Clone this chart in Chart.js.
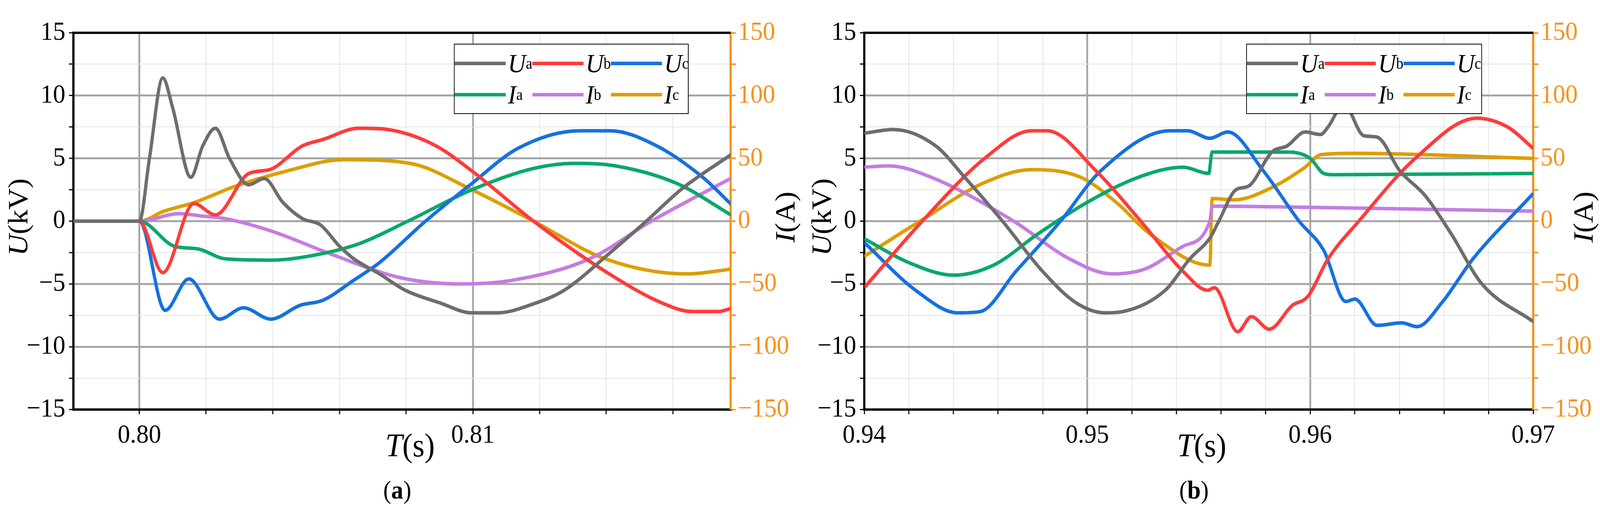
<!DOCTYPE html>
<html>
<head>
<meta charset="utf-8">
<script src="https://cdn.jsdelivr.net/npm/chart.js@4.4.0/dist/chart.umd.min.js"></script>
<style>
html, body { margin: 0; padding: 0; background: #fff; overflow: hidden; }
#stage { position: absolute; left: 0; top: 0; width: 4382px; height: 1314px; transform-origin: 0 0; font-family: "Liberation Serif", serif; }
canvas { position: absolute; top: 0; }
.lab { position: absolute; font-size: 84px; color: #000; white-space: nowrap; transform: translate(-50%, -50%); }
.rot { font-size: 76px; transform: translate(-50%, -50%) rotate(-90deg); }
.cap { position: absolute; font-size: 66px; transform: translate(-50%, -50%); }
.legend { position: absolute; border: 2px solid #000; background: #fff; display: grid; grid-template-columns: repeat(3, 1fr); align-items: center; padding: 8px 0; box-sizing: border-box; }
.legend div { display: flex; align-items: center; font-size: 68px; height: 80px; }
.legend span.sw { display: inline-block; width: 140px; height: 9px; margin-right: 6px; }
sub { font-size: 40px; font-style: normal; }
</style>
</head>
<body>
<div id="stage">
<canvas id="chartA" width="2191" height="1200" style="left:0;width:2191px;height:1200px"></canvas>
<canvas id="chartB" width="2191" height="1200" style="left:2191px;width:2191px;height:1200px"></canvas>

<div class="lab rot" style="left:50px;top:556px"><i>U</i>(kV)</div>
<div class="lab rot" style="left:2150px;top:556px"><i>I</i>(A)</div>
<div class="lab" style="left:1123px;top:1140px"><i>T</i>(s)</div>
<div class="cap" style="left:1088px;top:1255px">(<b>a</b>)</div>

<div class="lab rot" style="left:2250px;top:556px"><i>U</i>(kV)</div>
<div class="lab rot" style="left:4337px;top:556px"><i>I</i>(A)</div>
<div class="lab" style="left:3291px;top:1140px"><i>T</i>(s)</div>
<div class="cap" style="left:3270px;top:1255px">(<b>b</b>)</div>

<div class="legend" id="legA" style="left:1243px;top:112px;width:643px;height:180px"></div>
<div class="legend" id="legB" style="left:3413px;top:112px;width:646px;height:180px"></div>
</div>

<script>
// panel (a) data: time (s) and value pairs per trace
const aUaT = [0.798,0.800,0.8003,0.8007,0.8010,0.80154,0.8019,0.80228,0.8027,0.80328,0.80374,0.8043,0.80489,0.80543,0.8060,0.80643,0.8072,0.80797,0.8090,0.80997,0.81074,0.8118,0.81274,0.81412,0.8152,0.81628,0.8178];
const aUaV = [0,0,5,11.4,9,3.5,6,7.4,5,2.9,3.4,1.5,0.2,-0.3,-2,-3,-4.2,-5.5,-6.5,-7.3,-7.3,-6.6,-5.5,-2.5,0,2.6,5.4];
const aUbT = [0.798,0.800,0.8007,0.80163,0.80228,0.80328,0.8039,0.80489,0.8055,0.80658,0.80766,0.80889,0.80997,0.81182,0.81397,0.81566,0.81658,0.81735,0.8178];
const aUbV = [0,0,-4.1,1.4,0.5,3.8,4.1,6.0,6.5,7.4,7.2,6.0,4.0,0,-4,-6.5,-7.2,-7.2,-6.9];
const aUcT = [0.798,0.800,0.80077,0.80148,0.8024,0.80312,0.80394,0.80482,0.8055,0.80643,0.8072,0.80858,0.80997,0.81135,0.8132,0.81412,0.81551,0.81689,0.8178];
const aUcV = [0,0,-7.1,-4.6,-7.8,-6.9,-7.8,-6.7,-6.3,-4.7,-3.3,0,3,5.8,7.2,7.2,6,3.5,1.2];
const aIaT = [0.798,0.800,0.80105,0.80174,0.80258,0.80397,0.80505,0.80658,0.80805,0.80997,0.81182,0.81305,0.81428,0.81612,0.8178];
const aIaV = [0,0,-20,-22,-30,-31,-28,-18,0,25,42,46,44,30,4];
const aIbT = [0.798,0.800,0.8012,0.8019,0.80258,0.80397,0.80582,0.80782,0.80966,0.8112,0.8135,0.81535,0.8178];
const aIbV = [0,0,6,4,2,-8,-27,-45,-50,-47,-30,0,35];
const aIcT = [0.798,0.800,0.80074,0.80166,0.80289,0.80443,0.80612,0.80812,0.80997,0.81182,0.81397,0.81643,0.8178];
const aIcV = [0,0,8,15,28,40,49,46,25,0,-30,-42,-38];

// panel (b) data
const bUaT = [0.940,0.9413,0.9432,0.9445,0.9462,0.948,0.9495,0.9508,0.9516,0.9535,0.9546,0.95552,0.9559,0.95667,0.95724,0.95828,0.95897,0.95977,0.96046,0.9608,0.9615,0.96241,0.96299,0.96402,0.96517,0.96632,0.9677,0.970];
const bUaV = [7.0,7.3,6.0,3.5,0,-4,-6.5,-7.3,-7.2,-5.5,-3,-1.3,0,2.5,2.8,5.5,6,7.1,6.9,7.5,9.3,6.8,6.7,4,2,-1,-5,-8];
const bUbT = [0.940,0.9426,0.9454,0.9475,0.9482,0.9504,0.9524,0.9543,0.9554,0.9557,0.95675,0.95736,0.95816,0.9592,0.95989,0.9608,0.96218,0.96471,0.96747,0.96885,0.970];
const bUbV = [-5.3,0,5,7.2,7.2,4,0,-4,-5.5,-5.3,-8.8,-7.6,-8.6,-6.7,-6,-3,0,5,8.2,7.5,5.8];
const bUcT = [0.940,0.9423,0.9442,0.9452,0.9468,0.9488,0.9506,0.9537,0.9545,0.9555,0.9563,0.9579,0.9595,0.9606,0.9616,0.962,0.9630,0.9641,0.9648,0.9659,0.9673,0.970];
const bUcV = [-1.7,-5.5,-7.3,-7.2,-4,0,4,7.2,7.2,6.6,7.1,4,0,-2.3,-6.4,-6.2,-8.3,-8.1,-8.4,-6.5,-3,2.2];
const bIaT = [0.940,0.942,0.944,0.9458,0.9478,0.950,0.9523,0.9543,0.95545,0.9556,0.9590,0.9600,0.9606,0.9610,0.970];
const bIaV = [-14,-33,-43,-35,-10,15,35,43,38,55,55,50,38,37,38];
const bIbT = [0.940,0.9411,0.943,0.9467,0.9492,0.9511,0.9526,0.9543,0.9555,0.9556,0.960,0.970];
const bIbV = [43,44,35,0,-30,-42,-38,-20,0,12,11,8];
const bIcT = [0.940,0.9425,0.9453,0.9475,0.9497,0.9513,0.9528,0.9555,0.9556,0.9566,0.9583,0.9597,0.9605,0.962,0.970];
const bIcV = [-28,0,30,41,35,15,-10,-35,18,17,27,42,53,54,50];

const names = ['U', 'U', 'U', 'I', 'I', 'I'];
const subs = ['a', 'b', 'c', 'a', 'b', 'c'];
const colors = ['#6d6d6d', '#ff3b3b', '#1571e0', '#08a86a', '#c47de2', '#dd9e00'];
const orange = '#f7901e';
const font = "'Liberation Serif', serif";

// fit the 4382x1314 stage to whatever the viewport really is
const stage = document.getElementById('stage');
stage.style.transform = 'scale(' + (window.innerWidth / 4382) + ',' + (window.innerHeight / 1314) + ')';

function pts(t, v) { return t.map((x, i) => ({ x: x, y: v[i] })); }

function makeChart(id, series, xmin, xmax, majorLabels, leftW, rightW) {
  const datasets = series.map((s, i) => ({
    data: pts(s[0], s[1]),
    borderColor: colors[i],
    borderWidth: 9,
    pointRadius: 0,
    fill: false,
    cubicInterpolationMode: 'monotone',
    yAxisID: i < 3 ? 'y' : 'y2'
  }));
  const isMajorX = (v) => majorLabels.some((m) => Math.abs(m - v) < 1e-6);
  new Chart(document.getElementById(id), {
    type: 'line',
    data: { datasets },
    options: {
      animation: false,
      responsive: false,
      devicePixelRatio: 1,
      layout: { padding: { top: 84, left: 0, right: 0, bottom: 0 } },
      plugins: { legend: { display: false }, tooltip: { enabled: false } },
      scales: {
        x: {
          type: 'linear', min: xmin, max: xmax,
          afterBuildTicks: (sc) => {
            const ticks = [];
            for (let k = Math.ceil(xmin / 0.002 - 1e-6); k * 0.002 <= xmax + 1e-9; k++) ticks.push({ value: +(k * 0.002).toFixed(4) });
            sc.ticks = ticks;
          },
          afterFit: (sc) => { sc.height = 151; },
          ticks: {
            autoSkip: false, maxRotation: 0, padding: 14,
            font: { family: font, size: 68 }, color: '#000',
            callback: (v) => isMajorX(v) ? v.toFixed(2) : ''
          },
          grid: {
            color: (c) => isMajorX(c.tick.value) ? '#a6a6a6' : '#e2e2e2',
            lineWidth: (c) => isMajorX(c.tick.value) ? 5 : 2,
            tickColor: '#000', tickLength: 12, tickWidth: 3
          },
          border: { color: '#000', width: 6 }
        },
        y: {
          position: 'left', min: -15, max: 15,
          afterBuildTicks: (sc) => {
            const ticks = [];
            for (let v = -15; v <= 15; v += 2.5) ticks.push({ value: v });
            sc.ticks = ticks;
          },
          afterFit: (sc) => { sc.width = leftW; },
          ticks: {
            autoSkip: false, padding: 10,
            font: { family: font, size: 68 }, color: '#000',
            callback: (v) => v % 5 === 0 ? String(v).replace('-', '\u2212') : ''
          },
          grid: {
            color: (c) => (c.tick.value % 5 === 0 && Math.abs(c.tick.value) < 15) ? '#a6a6a6' : '#e2e2e2',
            lineWidth: (c) => (c.tick.value % 5 === 0 && Math.abs(c.tick.value) < 15) ? 5 : 2,
            tickColor: '#000', tickLength: 12, tickWidth: 3
          },
          border: { color: '#000', width: 6 }
        },
        y2: {
          position: 'right', min: -150, max: 150,
          afterBuildTicks: (sc) => {
            const ticks = [];
            for (let v = -150; v <= 150; v += 25) ticks.push({ value: v });
            sc.ticks = ticks;
          },
          afterFit: (sc) => { sc.width = rightW; },
          ticks: {
            autoSkip: false, padding: 6,
            font: { family: font, size: 68 }, color: orange,
            callback: (v) => v % 50 === 0 ? String(v).replace('-', '\u2212') : ''
          },
          grid: { drawOnChartArea: false, tickColor: orange, tickLength: 14, tickWidth: 4 },
          border: { color: orange, width: 6 }
        }
      }
    },
    plugins: [{
      id: 'frame',
      afterDraw: (ch) => {
        const a = ch.chartArea, c = ch.ctx;
        c.save(); c.strokeStyle = '#000'; c.lineWidth = 6;
        c.beginPath(); c.moveTo(a.left, a.top); c.lineTo(a.right, a.top); c.stroke();
        c.restore();
      }
    }]
  });
}

makeChart('chartA',
  [[aUaT, aUaV], [aUbT, aUbV], [aUcT, aUcV], [aIaT, aIaV], [aIbT, aIbV], [aIcT, aIcV]],
  0.79802, 0.81773, [0.8, 0.81], 201, 190);
makeChart('chartB',
  [[bUaT, bUaV], [bUbT, bUbV], [bUcT, bUcV], [bIaT, bIaV], [bIbT, bIbV], [bIcT, bIcV]],
  0.94, 0.97, [0.94, 0.95, 0.96, 0.97], 176, 183);

['legA', 'legB'].forEach((id) => {
  const el = document.getElementById(id);
  names.forEach((n, i) => {
    const d = document.createElement('div');
    d.innerHTML = '<span class="sw" style="background:' + colors[i] + '"></span><i>' + n + '</i><sub>' + subs[i] + '</sub>';
    el.appendChild(d);
  });
});
</script>
</body>
</html>
